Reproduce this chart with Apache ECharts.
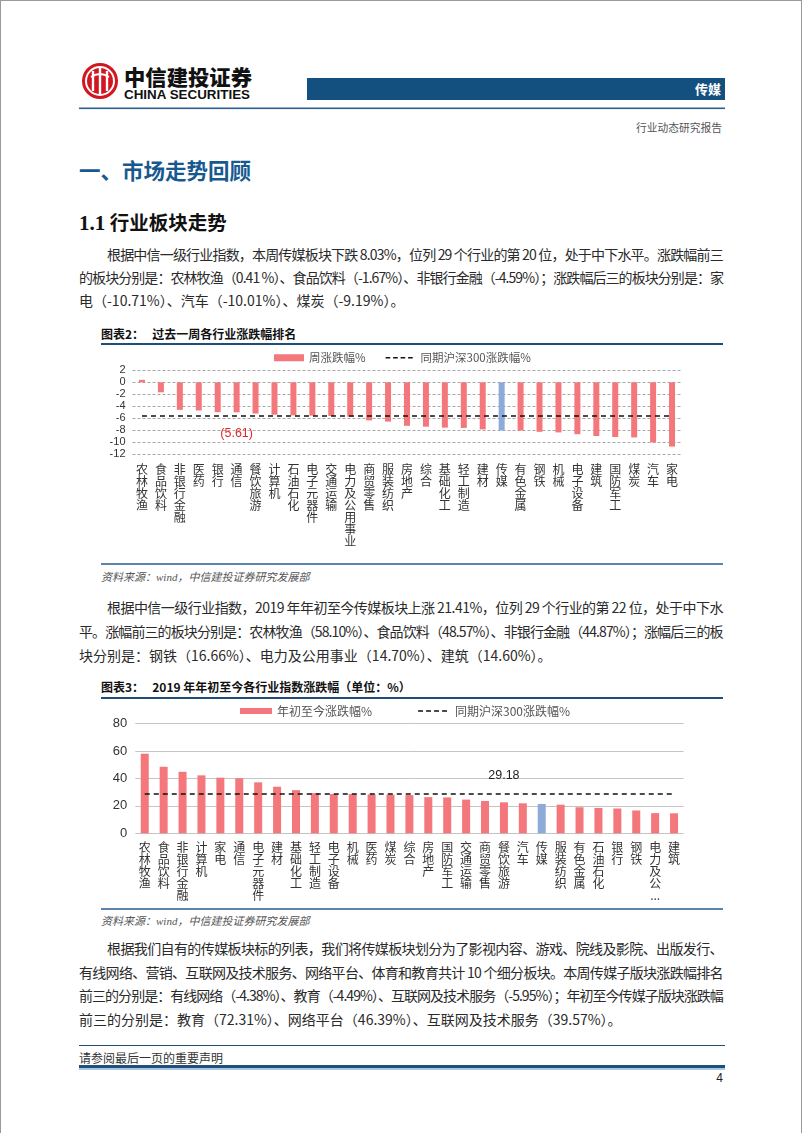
<!DOCTYPE html>
<html><head><meta charset="utf-8">
<script src="https://cdn.jsdelivr.net/npm/echarts@6/dist/echarts.min.js"></script>
<style>
html,body{margin:0;padding:0;background:#fff;}
#page{position:relative;width:802px;height:1133px;overflow:hidden;font-family:"Noto Sans CJK SC","Noto Sans",sans-serif;color:#2a2a2a;box-sizing:border-box;border-left:1px solid #9a9a9a;border-right:1px solid #9a9a9a;border-top:1px solid #9a9a9a;}
.abs{position:absolute;}
.tl{position:absolute;font-size:14px;line-height:20px;height:20px;white-space:nowrap;}
.hr{position:absolute;}
.ctitle{position:absolute;left:100px;font-size:12px;font-weight:bold;color:#111;white-space:nowrap;line-height:16px;}
.src{position:absolute;left:100px;font-size:11px;font-style:italic;color:#555;font-family:"Liberation Serif","Noto Sans CJK SC",serif;line-height:14px;}
</style></head>
<body>
<div id="page">
  <!-- header -->
  <svg class="abs" style="left:0;top:0" width="802" height="140">
    <circle cx="99" cy="80" r="18" fill="#d2151e"/>
    <circle cx="99" cy="80" r="14" fill="none" stroke="#fff" stroke-width="2"/>
    <path d="M92 70 v20 M99 66 v28 M106 70 v20" stroke="#fff" stroke-width="2.4" fill="none"/>
    <path d="M90 76 q9 -6 18 0" stroke="#fff" stroke-width="2" fill="none"/>
    <text x="123" y="84" font-family="Noto Sans CJK SC" font-weight="900" font-size="21" fill="#111" textLength="128" lengthAdjust="spacingAndGlyphs">中信建投证券</text>
    <text x="123" y="98" font-family="Liberation Sans Narrow, Liberation Sans, sans-serif" font-weight="bold" font-size="12.5" fill="#111" textLength="126" lengthAdjust="spacingAndGlyphs">CHINA SECURITIES</text>
    <rect x="306" y="77" width="418" height="22" fill="#13507f"/>
    <text x="720" y="93" text-anchor="end" font-family="Noto Sans CJK SC" font-weight="bold" font-size="13" fill="#fff">传媒</text>
    <rect x="78" y="106.5" width="646" height="1.6" fill="#2d5f8e"/>
    <text x="721" y="131" text-anchor="end" font-family="Noto Sans CJK SC" font-size="11" fill="#555" textLength="86" lengthAdjust="spacingAndGlyphs">行业动态研究报告</text>
  </svg>

  <div class="abs" style="left:78px;top:155px;font-size:21.5px;font-weight:bold;color:#17598f;line-height:28px;white-space:nowrap;">一、市场走势回顾</div>
  <div class="abs" style="left:78px;top:208px;font-size:19.5px;font-weight:bold;color:#111;line-height:26px;white-space:nowrap;"><span style="font-family:'Liberation Serif',serif;font-size:21px;">1.1</span> 行业板块走势</div>

  <div class="tl just" data-l="106" data-w="616" style="top:243px">根据中信一级行业指数，本周传媒板块下跌 8.03%，位列 29 个行业的第 20 位，处于中下水平。涨跌幅前三</div>
  <div class="tl just" data-l="78" data-w="644" style="top:266px">的板块分别是：农林牧渔（0.41 %）、食品饮料（-1.67%）、非银行金融（-4.59%）；涨跌幅后三的板块分别是：家</div>
  <div class="tl" style="left:78px;top:289px">电（-10.71%）、汽车（-10.01%）、煤炭（-9.19%）。</div>

  <div class="ctitle" style="top:325px">图表2：&nbsp;&nbsp;&nbsp;过去一周各行业涨跌幅排名</div>
  <div class="hr" style="left:100px;top:342px;width:622px;height:2px;background:#1f4e79"></div>
  <div id="c1" class="abs" style="left:100px;top:345px;width:590px;height:216px"></div>
  <div class="hr" style="left:100px;top:562px;width:622px;height:2px;background:#5a84ab"></div>
  <div class="src" style="top:569px">资料来源：wind，中信建投证券研究发展部</div>

  <div class="tl just" data-l="106" data-w="616" style="top:596px">根据中信一级行业指数，2019 年年初至今传媒板块上涨 21.41%，位列 29 个行业的第 22 位，处于中下水</div>
  <div class="tl just" data-l="78" data-w="644" style="top:620px">平。涨幅前三的板块分别是：农林牧渔（58.10%）、食品饮料（48.57%）、非银行金融（44.87%）；涨幅后三的板</div>
  <div class="tl" style="left:78px;top:644px">块分别是：钢铁（16.66%）、电力及公用事业（14.70%）、建筑（14.60%）。</div>

  <div class="ctitle" style="top:678px">图表3：&nbsp;&nbsp;&nbsp;2019 年年初至今各行业指数涨跌幅（单位：%）</div>
  <div class="hr" style="left:100px;top:696px;width:622px;height:2px;background:#1f4e79"></div>
  <div id="c2" class="abs" style="left:100px;top:700px;width:590px;height:206px"></div>
  <div class="hr" style="left:100px;top:907px;width:622px;height:2px;background:#5a84ab"></div>
  <div class="src" style="top:913px">资料来源：wind，中信建投证券研究发展部</div>

  <div class="tl just" data-l="106" data-w="616" style="top:937px">根据我们自有的传媒板块标的列表，我们将传媒板块划分为了影视内容、游戏、院线及影院、出版发行、</div>
  <div class="tl just" data-l="78" data-w="644" style="top:961px">有线网络、营销、互联网及技术服务、网络平台、体育和教育共计 10 个细分板块。本周传媒子版块涨跌幅排名</div>
  <div class="tl just" data-l="78" data-w="644" style="top:984px">前三的分别是：有线网络（-4.38%）、教育（-4.49%）、互联网及技术服务（-5.95%）；年初至今传媒子版块涨跌幅</div>
  <div class="tl" style="left:78px;top:1008px">前三的分别是：教育（72.31%）、网络平台（46.39%）、互联网及技术服务（39.57%）。</div>

  <!-- footer -->
  <div class="hr" style="left:78px;top:1044px;width:646px;height:1.3px;background:#1f4e79"></div>
  <div class="abs" style="left:78px;top:1049px;font-size:12px;color:#333;line-height:16px;white-space:nowrap;">请参阅最后一页的重要声明</div>
  <div class="hr" style="left:78px;top:1064px;width:646px;height:3px;background:#1f4e79"></div>
  <div class="hr" style="left:78px;top:1067px;width:646px;height:2px;background:#a9c6e2"></div>
  <div class="abs" style="left:700px;top:1070px;width:22px;text-align:right;font-size:12px;color:#222;font-family:'Liberation Sans Narrow','Liberation Sans',sans-serif;">4</div>
</div>

<script>
// ---------- data ----------
const weekCats = ['农林牧渔','食品饮料','非银行金融','医药','银行','通信','餐饮旅游','计算机','石油石化','电子元器件','交通运输','电力及公用事业','商贸零售','服装纺织','房地产','综合','基础化工','轻工制造','建材','传媒','有色金属','钢铁','机械','电子设备','建筑','国防军工','煤炭','汽车','家电'];
const weekVals = [0.41,-1.67,-4.59,-4.70,-4.98,-5.00,-5.20,-5.40,-5.50,-5.55,-5.60,-5.75,-6.35,-6.55,-7.25,-7.40,-7.55,-7.60,-7.85,-8.03,-8.05,-8.25,-8.35,-8.65,-8.95,-9.12,-9.19,-10.01,-10.71];
const weekHs300 = -5.61;
const weekTicks = [-12,-10,-8,-6,-4,-2,0,2];

const ytdCats = ['农林牧渔','食品饮料','非银行金融','计算机','家电','通信','电子元器件','建材','基础化工','轻工制造','电子设备','机械','医药','煤炭','综合','房地产','国防军工','交通运输','商贸零售','餐饮旅游','汽车','传媒','服装纺织','有色金属','石油石化','银行','钢铁','电力及公用事业','建筑'];
const ytdVals = [58.10,48.57,44.87,42.3,40.6,40.2,37.2,34.0,31.5,29.3,28.7,28.6,28.4,28.2,27.9,26.4,26.2,24.6,23.6,22.6,21.9,21.41,20.9,19.0,18.5,18.1,16.66,14.70,14.60];
const ytdHs300 = 29.18;
const ytdTicks = [0,20,40,60,80];

const highlightCat = '传媒';
const weekSeriesName = '周涨跌幅%';
const ytdSeriesName = '年初至今涨跌幅%';
const hsName = '同期沪深300涨跌幅%';

// ---------- justify text lines ----------
document.querySelectorAll('.just').forEach(el => {
  const target = +el.dataset.w;
  el.style.left = el.dataset.l + 'px';
  el.style.letterSpacing = '0px';
  const w = el.scrollWidth;
  const n = el.textContent.length;
  el.style.letterSpacing = ((target - w) / n) + 'px';
});

const RED = '#f4777b', BLUE = '#8eaad8';
const cjk = '"Noto Sans CJK SC","Noto Sans",sans-serif';

// dashed-line legend icon (4 dashes, centred vertically in a w x h box)
function dashIcon(w, h, t) {
  const y = (h - t) / 2, seg = w / 4, d = seg * 0.62;
  let p = `path://M0,0h0.01v0.01h-0.01z M${w - 0.01},${h - 0.01}h0.01v0.01h-0.01z`;
  for (let i = 0; i < 4; i++) p += ` M${(i * seg).toFixed(2)},${y}h${d.toFixed(2)}v${t}h-${d.toFixed(2)}z`;
  return p;
}

function barData(cats, vals) {
  return vals.map((v, i) => cats[i] === highlightCat ? {value: v, itemStyle: {color: BLUE}} : v);
}
function stack(v, maxLen) {
  if (maxLen && v.length > maxLen) return v.slice(0, maxLen - 1).split('').join('\n') + '\n...';
  return v.split('').join('\n');
}

// ---------- chart 1 ----------
const c1 = echarts.init(document.getElementById('c1'));
c1.setOption({
  animation: false,
  grid: {left: 31.5, top: 24.3, width: 549, height: 84},
  legend: {
    left: 173, top: 6, padding: 0, itemWidth: 30, itemHeight: 7, itemGap: 20,
    textStyle: {fontSize: 11.5, color: '#555', fontFamily: cjk},
    data: [{name: weekSeriesName, icon: 'rect'}, {name: hsName, icon: dashIcon(30, 7, 1.5)}]
  },
  xAxis: {
    type: 'category', data: weekCats,
    axisLine: {show: false, onZero: false}, axisTick: {show: false},
    axisLabel: {interval: 0, formatter: v => stack(v), fontSize: 12, lineHeight: 12, color: '#333', fontFamily: cjk, margin: 9, verticalAlign: 'top'}
  },
  yAxis: {
    type: 'value', min: weekTicks[0], max: weekTicks[weekTicks.length - 1], interval: weekTicks[1] - weekTicks[0],
    axisLine: {show: false}, axisTick: {show: false},
    axisLabel: {fontSize: 11, color: '#333', fontFamily: '"Liberation Sans",Arial,sans-serif', margin: 7},
    splitLine: {lineStyle: {type: [3, 2], color: '#a8a8a8', width: 1}}
  },
  series: [
    {type: 'bar', name: weekSeriesName, data: barData(weekCats, weekVals), barWidth: 6, itemStyle: {color: RED},
     markPoint: {silent: true, symbol: 'circle', symbolSize: 0,
       label: {show: true, position: 'inside', formatter: '(' + Math.abs(weekHs300).toFixed(2) + ')', color: '#e0282c', fontSize: 12.5, fontFamily: '"Liberation Sans",Arial,sans-serif'},
       data: [{coord: ['通信', -8.55]}]}},
    {type: 'line', name: hsName, data: [], symbol: 'none', lineStyle: {type: [5, 4], color: '#111', width: 1.5}, itemStyle: {color: '#111'},
     markLine: {silent: true, symbol: 'none', label: {show: false}, lineStyle: {type: [5, 4], color: '#111', width: 1.5},
       data: [[{xAxis: weekCats[0], yAxis: weekHs300}, {xAxis: weekCats[weekCats.length - 1], yAxis: weekHs300}]]}}
  ]
});

// ---------- chart 2 ----------
const c2 = echarts.init(document.getElementById('c2'));
c2.setOption({
  animation: false,
  grid: {left: 34.3, top: 22.7, width: 548.2, height: 109.6},
  legend: {
    left: 139, top: 4, padding: 0, itemWidth: 32, itemHeight: 6, itemGap: 46,
    textStyle: {fontSize: 12, color: '#555', fontFamily: cjk},
    data: [{name: ytdSeriesName, icon: 'rect'}, {name: hsName, icon: dashIcon(32, 6, 1.5)}]
  },
  xAxis: {
    type: 'category', data: ytdCats,
    axisLine: {show: false}, axisTick: {show: false},
    axisLabel: {interval: 0, formatter: v => stack(v, 5), fontSize: 12, lineHeight: 12, color: '#333', fontFamily: cjk, margin: 8, verticalAlign: 'top'}
  },
  yAxis: {
    type: 'value', min: ytdTicks[0], max: ytdTicks[ytdTicks.length - 1], interval: ytdTicks[1] - ytdTicks[0],
    axisLine: {show: false}, axisTick: {show: false},
    axisLabel: {fontSize: 13, color: '#333', fontFamily: '"Liberation Sans",Arial,sans-serif', margin: 8},
    splitLine: {lineStyle: {color: '#c4c4c4', width: 1}}
  },
  series: [
    {type: 'bar', name: ytdSeriesName, data: barData(ytdCats, ytdVals), barWidth: 8, itemStyle: {color: RED},
     markPoint: {silent: true, symbol: 'circle', symbolSize: 0,
       label: {show: true, position: 'inside', formatter: ytdHs300.toFixed(2), color: '#222', fontSize: 12.5, fontFamily: '"Liberation Sans",Arial,sans-serif'},
       data: [{coord: ['餐饮旅游', 41.8]}]}},
    {type: 'line', name: hsName, data: [], symbol: 'none', lineStyle: {type: [5, 4], color: '#111', width: 1.5}, itemStyle: {color: '#111'},
     markLine: {silent: true, symbol: 'none', label: {show: false}, lineStyle: {type: [5, 4], color: '#111', width: 1.5},
       data: [[{xAxis: ytdCats[0], yAxis: ytdHs300}, {xAxis: ytdCats[ytdCats.length - 1], yAxis: ytdHs300}]]}}
  ]
});
</script>
</body></html>
